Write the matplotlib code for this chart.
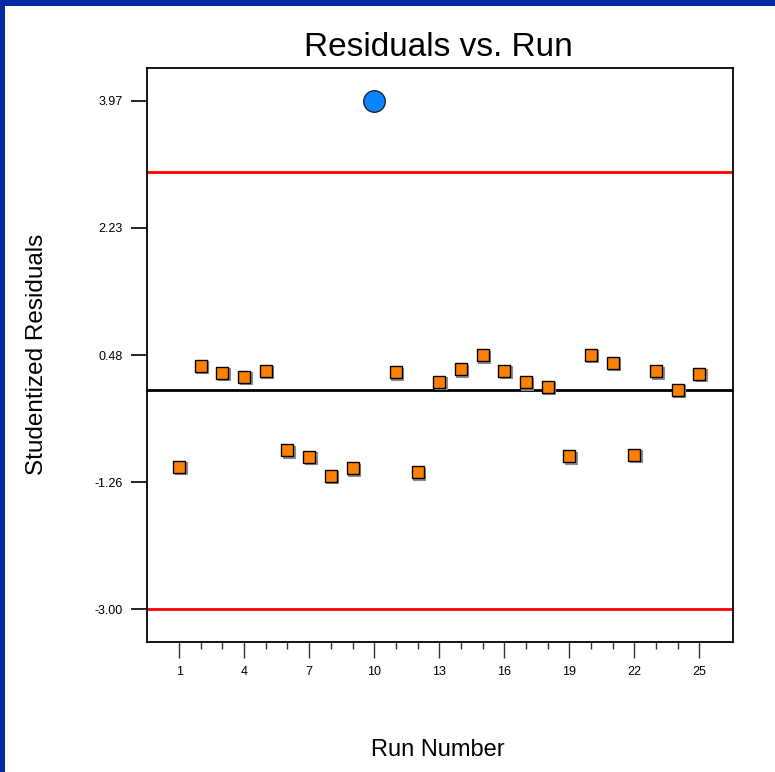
import matplotlib
matplotlib.use("Agg")
import matplotlib.pyplot as plt
import matplotlib.transforms as mtransforms
from matplotlib.patches import Rectangle

plt.rcParams['font.family'] = ['Liberation Sans', 'DejaVu Sans']

runs = list(range(1, 26))
residuals = [-1.05, 0.34, 0.24, 0.19, 0.27, -0.82, -0.91, -1.17, -1.07, 3.97,
             0.25, -1.12, 0.12, 0.29, 0.48, 0.27, 0.11, 0.05, -0.90, 0.49,
             0.38, -0.88, 0.26, 0.01, 0.23]
outlier_run = 10
limit_upper = 3.00
limit_lower = -3.00
ytick_vals = [3.97, 2.23, 0.48, -1.26, -3.00]
ytick_labels = ["3.97", "2.23", "0.48", "-1.26", "-3.00"]
xtick_major = [1, 4, 7, 10, 13, 16, 19, 22, 25]

W, H = 775, 772
fig = plt.figure(figsize=(W / 100, H / 100), dpi=100)
fig.patch.set_facecolor('white')

# blue frame (top & left)
fig.add_artist(Rectangle((0, 1 - 6 / H), 1, 6 / H, transform=fig.transFigure,
                         facecolor='#0029A3', edgecolor='none'))
fig.add_artist(Rectangle((0, 0), 5 / W, 1, transform=fig.transFigure,
                         facecolor='#0029A3', edgecolor='none'))

ax = fig.add_axes([147 / W, (H - 642) / H, 586 / W, 574 / H])
ax.set_xlim(-0.48, 26.55)
ax.set_ylim(-3.45, 4.42)

ax.axhline(limit_upper, color='#FF0000', lw=2, zorder=2)
ax.axhline(limit_lower, color='#FF0000', lw=2, zorder=2)
ax.axhline(0, color='black', lw=2, zorder=2)

xs = [r for r in runs if r != outlier_run]
ys = [v for r, v in zip(runs, residuals) if r != outlier_run]
ox = [r for r in runs if r == outlier_run]
oy = [v for r, v in zip(runs, residuals) if r == outlier_run]

shadow = mtransforms.offset_copy(ax.transData, fig=fig, x=1.5, y=-1.5, units='dots')
ax.plot(xs, ys, ls='none', marker='s', ms=8.6, mfc='#8a8a8a', mec='#8a8a8a',
        mew=0.8, transform=shadow, zorder=3)
ax.plot(xs, ys, ls='none', marker='s', ms=8.4, mfc='#FF8000', mec='black',
        mew=1.0, zorder=4)
ax.plot(ox, oy, ls='none', marker='o', ms=15.5, mfc='#0A84FF', mec='#222222',
        mew=1.0, zorder=4)

for s in ax.spines.values():
    s.set_linewidth(1.3)
    s.set_color('black')

ax.set_yticks(ytick_vals)
ax.set_yticklabels(ytick_labels)
ax.tick_params(axis='y', direction='out', length=11.5, width=1.2, pad=5.8, labelsize=9)

ax.set_xticks(xtick_major)
ax.set_xticklabels([str(v) for v in xtick_major])
ax.set_xticks([r for r in runs if r not in xtick_major], minor=True)
ax.tick_params(axis='x', which='major', direction='out', length=11.5, width=1.0,
               pad=5.5, labelsize=9, color='#333333')
ax.tick_params(axis='x', which='minor', direction='out', length=4.7, width=1.0,
               color='#333333')

fig.text(438 / W, 1 - 47 / H, "Residuals vs. Run", ha='center', va='center',
         fontsize=24)
fig.text(438 / W, 1 - 750 / H, "Run Number", ha='center', va='center',
         fontsize=17)
fig.text(37 / W, 1 - 354 / H, "Studentized Residuals", ha='center', va='center',
         rotation=90, fontsize=17.5)

fig.savefig("out.png", dpi=100, facecolor='white')
